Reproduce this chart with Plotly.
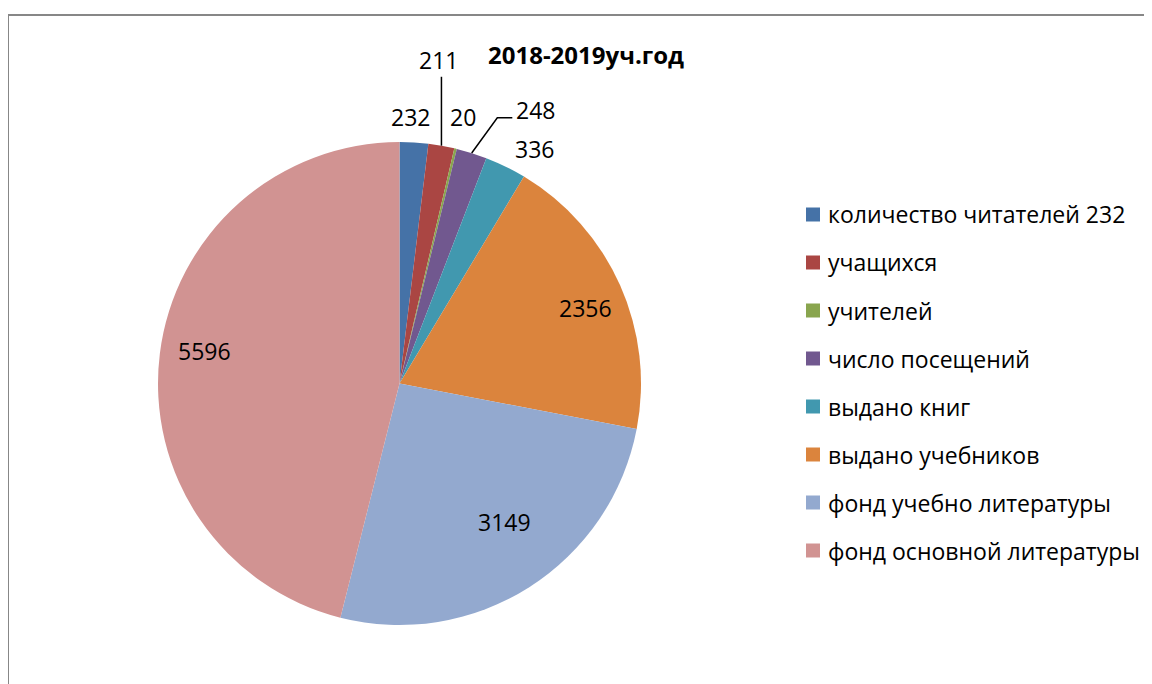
import math
import plotly.graph_objects as go

# data
labels = ["количество читателей 232", "учащихся", "учителей", "число посещений",
          "выдано книг", "выдано учебников", "фонд учебно литературы",
          "фонд основной литературы"]
values = [232, 211, 20, 248, 336, 2356, 3149, 5596]
colors = ["#4572A7", "#AA4643", "#89A54E", "#71588F",
          "#4198AF", "#DB843D", "#93A9CF", "#D19392"]
title = "2018-2019уч.год"

W, H = 1152, 684
OFF = 8                               # page body margin
FONT = "Open Sans"
cx, cy, R = 399.5, 383.5, 241.5      # pie centre / radius in pixels

# label placement per slice: (radius factor, angle shift deg, leader kind)
placement = [(1.105, -1.0, None), (1.35, -3.2, "up"), (1.135, 0.0, None),
             (1.265, 9.0, "elbow"), (1.12, 4.0, None), (0.83, 2.0, None),
             (0.72, -4.8, None), (0.82, 2.3, None)]


def px(x):
    return (x - OFF) / W


def py(y):
    return 1 - (y - OFF) / H


fig = go.Figure()
fig.add_trace(go.Pie(labels=labels, values=values, sort=False,
                     direction="clockwise", rotation=0,
                     marker=dict(colors=colors, line=dict(width=0)),
                     textinfo="none", showlegend=False,
                     domain=dict(x=[px(cx - R), px(cx + R)],
                                 y=[py(cy + R), py(cy - R)])))

annotations = []
shapes = []
total = sum(values)
cum = 0
for v, (rf, shift, leader) in zip(values, placement):
    mid = (cum + v / 2) / total * 360
    cum += v
    a = math.radians(mid + shift)
    lx = cx + rf * R * math.sin(a)
    ly = cy - rf * R * math.cos(a)
    annotations.append(dict(x=px(lx), y=py(ly), xref="paper", yref="paper",
                            text=str(v), showarrow=False, xanchor="center",
                            yanchor="middle",
                            font=dict(family=FONT, size=23, color="black")))
    if leader:
        am = math.radians(mid)
        ex = cx + R * math.sin(am)
        ey = cy - R * math.cos(am)
        if leader == "up":
            path = f"M {px(ex)},{py(ey)} L {px(ex)},{py(ly + 17)}"
        else:
            path = (f"M {px(ex)},{py(ey)} L {px(lx - 38)},{py(ly + 8)} "
                    f"L {px(lx - 23)},{py(ly + 8)}")
        shapes.append(dict(type="path", path=path, xref="paper", yref="paper",
                           line=dict(color="black", width=1.5)))

# legend drawn by hand to keep Excel-like row spacing
for i, (lab, col) in enumerate(zip(labels, colors)):
    ry = 214.5 + i * 48
    shapes.append(dict(type="rect", xref="paper", yref="paper",
                       x0=px(806), x1=px(820), y0=py(ry + 7), y1=py(ry - 7),
                       fillcolor=col, line=dict(width=0)))
    annotations.append(dict(x=px(826), y=py(ry), xref="paper", yref="paper",
                            text=lab, showarrow=False, xanchor="left",
                            yanchor="middle",
                            font=dict(family=FONT, size=23, color="black")))

annotations.append(dict(x=px(586), y=py(54), xref="paper", yref="paper",
                        text=f"<b>{title}</b>", showarrow=False,
                        xanchor="center", yanchor="middle",
                        font=dict(family=FONT, size=24, color="black")))

# chart area border (cut off on the right and bottom)
shapes.append(dict(type="path", xref="paper", yref="paper",
                   path=f"M {px(8)},{py(H + 20)} L {px(8)},{py(15)} L {px(W + 20)},{py(15)}",
                   line=dict(color="#878787", width=2)))

fig.update_layout(width=W, height=H, margin=dict(l=0, r=0, t=0, b=0),
                  paper_bgcolor="white", plot_bgcolor="white",
                  annotations=annotations, shapes=shapes)
fig.write_html("out.html")
